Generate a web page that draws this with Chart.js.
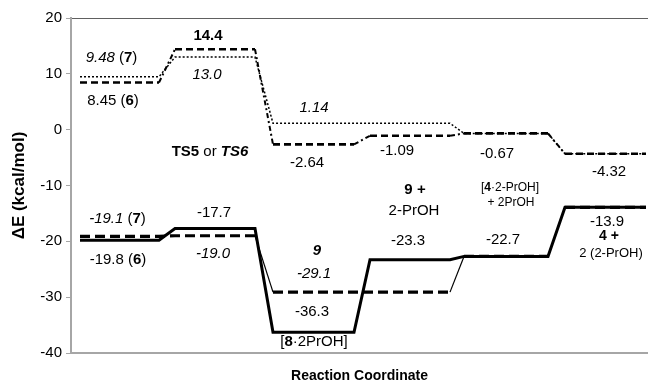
<!DOCTYPE html>
<html>
<head>
<meta charset="utf-8">
<script src="https://cdn.jsdelivr.net/npm/chart.js@4.4.1/dist/chart.umd.min.js"></script>
<style>
html,body{margin:0;padding:0;background:#fff;}
#wrap{width:648px;height:385px;position:relative;}
</style>
</head>
<body>
<div id="wrap"><canvas id="energyChart"></canvas></div>
<script>
// where each level sits along the reaction coordinate
const stageStart=[0.9,10.4,20.2,29.9,39.3,49.4];
const stageEnd=[8.8,18.4,28.3,37.9,47.7,57.5];

// relative energies, kcal/mol
const lowerSolid6=[-19.8,-17.7,-36.3,-23.3,-22.7,-13.9];
const lowerDashed7=[-19.1,-19.0,-29.1,-29.1,-22.7,-13.9];
const upperDashed6=[8.45,14.4,-2.64,-1.09,-0.67,-4.32];
const upperDotted7=[9.48,13.0,1.14,1.14,-0.67,-4.32];

const yTicks=[20,10,0,-10,-20,-30,-40];

const FONT="'Liberation Sans', Arial, sans-serif";

function levels(vals){
let pts=[];
vals.forEach((v,k)=>{
pts.push({x:stageStart[k],y:v});
pts.push({x:stageEnd[k],y:v});
});
return pts;
}

const isFlat=ctx=>Math.abs(ctx.p0.parsed.y-ctx.p1.parsed.y)<0.2;

function styled(flat,trans){
return {
borderWidth:ctx=>isFlat(ctx)?flat.w:trans.w,
borderDash:ctx=>isFlat(ctx)?flat.d:trans.d
};
}

/* text notes placed in data units */
const notes=[
{x:4.05,y:12.86,runs:[["9.48","italic"],[" ("],["7","bold"],[")"]]},
{x:4.2,y:5.18,runs:[["8.45 ("],["6","bold"],[")"]]},
{x:13.7,y:16.79,runs:[["14.4","bold"]]},
{x:13.6,y:9.82,runs:[["13.0","italic"]]},
{x:13.9,y:-3.93,runs:[["TS5","bold"],[" or "],["TS6","italic bold"]]},
{x:24.3,y:3.93,runs:[["1.14","italic"]]},
{x:23.6,y:-5.89,runs:[["-2.64"]]},
{x:32.6,y:-3.75,runs:[["-1.09"]]},
{x:42.6,y:-4.29,runs:[["-0.67"]]},
{x:53.8,y:-7.5,runs:[["-4.32"]]},
{x:43.9,y:-10.36,size:12,runs:[["["],["4","bold"],["·2-PrOH]"]]},
{x:44.0,y:-13.04,size:12,runs:[["+ 2PrOH"]]},
{x:34.4,y:-10.71,runs:[["9 +","bold"]]},
{x:34.3,y:-14.46,runs:[["2-PrOH"]]},
{x:33.7,y:-20.0,runs:[["-23.3"]]},
{x:43.2,y:-19.82,runs:[["-22.7"]]},
{x:53.6,y:-16.43,runs:[["-13.9"]]},
{x:53.8,y:-19.11,size:14,runs:[["4 +","bold"]]},
{x:54.0,y:-22.14,size:13,runs:[["2 (2-PrOH)"]]},
{x:4.65,y:-15.89,runs:[["-19.1","italic"],[" ("],["7","bold"],[")"]]},
{x:4.7,y:-23.39,runs:[["-19.8 ("],["6","bold"],[")"]]},
{x:14.3,y:-14.82,runs:[["-17.7"]]},
{x:14.2,y:-22.32,runs:[["-19.0","italic"]]},
{x:24.6,y:-21.79,runs:[["9","italic bold"]]},
{x:24.3,y:-25.89,runs:[["-29.1","italic"]]},
{x:24.1,y:-32.68,runs:[["-36.3"]]},
{x:24.3,y:-38.04,runs:[["["],["8","bold"],["·2PrOH]"]]}
];

const notePlugin={
id:"notes",
afterDatasetsDraw(chart){
const {ctx,scales}=chart;
ctx.save();
ctx.fillStyle="#000";
ctx.textBaseline="middle";
ctx.textAlign="left";
notes.forEach(n=>{
const size=n.size||15;
const px=scales.x.getPixelForValue(n.x);
const py=scales.y.getPixelForValue(n.y);
let total=0;
n.runs.forEach(r=>{
ctx.font=(r[1]||"")+" "+size+"px "+FONT;
total+=ctx.measureText(r[0]).width;
});
let cx=px-total/2;
n.runs.forEach(r=>{
ctx.font=(r[1]||"")+" "+size+"px "+FONT;
ctx.fillText(r[0],cx,py);
cx+=ctx.measureText(r[0]).width;
});
});
ctx.restore();
}
};

new Chart(document.getElementById("energyChart"),{
type:"line",
data:{
datasets:[
{
label:"6",
data:levels(lowerSolid6),
borderColor:"#000",
borderWidth:3,
segment:styled({w:3,d:[]},{w:3,d:[]})
},
{
label:"7",
data:levels(lowerDashed7),
borderColor:"#000",
borderWidth:3,
segment:styled({w:3.2,d:[10,5]},{w:1.2,d:[]})
},
{
label:"6 upper",
data:levels(upperDashed6),
borderColor:"#000",
borderWidth:2.5,
segment:styled({w:2.6,d:[7,4]},{w:2,d:[5,3,2,3]})
},
{
label:"7 upper",
data:levels(upperDotted7),
borderColor:"#000",
borderWidth:1.5,
segment:styled({w:1.5,d:[2,2]},{w:1.5,d:[2,2]})
}
]
},
options:{
responsive:true,
maintainAspectRatio:false,
animation:false,
layout:{padding:{top:18,right:0,bottom:0,left:0}},
elements:{
point:{radius:0,hoverRadius:0},
line:{tension:0,borderCapStyle:"butt",borderJoinStyle:"miter"}
},
plugins:{
legend:{display:false},
tooltip:{enabled:false}
},
scales:{
x:{
type:"linear",
min:0,
max:57.7,
ticks:{display:false},
grid:{display:false,drawTicks:false},
border:{color:"#a6a6a6",width:2},
title:{
display:true,
text:"Reaction Coordinate",
color:"#000",
font:{family:FONT,size:14,weight:"bold"},
padding:{top:0,bottom:0}
},
afterFit(s){s.height=32;}
},
x2:{
type:"linear",
position:"top",
min:0,
max:57.7,
ticks:{display:false},
grid:{display:false,drawTicks:false},
border:{color:"#606060",width:1},
afterFit(s){s.height=0;}
},
y:{
min:-40,
max:20,
afterBuildTicks(s){s.ticks=yTicks.map(v=>({value:v}));},
ticks:{color:"#000",padding:4,font:{family:FONT,size:15}},
grid:{drawOnChartArea:false,drawTicks:true,tickLength:5,color:"#a6a6a6"},
border:{color:"#a6a6a6",width:2},
title:{
display:true,
text:"ΔE (kcal/mol)",
color:"#000",
font:{family:FONT,size:17,weight:"bold"},
padding:{top:9,bottom:0}
},
afterFit(s){s.width=71;}
}
}
},
plugins:[notePlugin]
});
</script>
</body>
</html>
